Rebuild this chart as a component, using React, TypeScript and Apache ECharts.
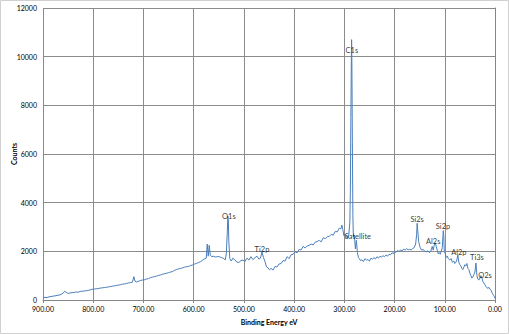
import React, { useEffect, useRef } from "react";
import * as echarts from "echarts";

// Binding energy (eV) and counts
const energies: number[] = [
  900, 896, 892, 888, 884, 880, 876, 872, 868, 864, 860, 857, 854, 850, 846, 842, 838, 834, 830, 826,
  822, 818, 814, 810, 806, 802, 798, 794, 790, 786, 782, 778, 774, 770, 766, 762, 758, 754, 750, 746,
  742, 738, 734, 730, 726, 722, 719, 717, 714, 710, 706, 702, 698, 694, 690, 686, 682, 678, 674, 670,
  666, 662, 658, 654, 650, 646, 642, 638, 634, 630, 626, 622, 618, 614, 610, 606, 602, 598, 594, 590,
  586, 582, 578, 575, 573, 571, 569, 567, 564, 560, 556, 552, 548, 544, 540, 537, 535, 533, 532, 531,
  530, 528, 525, 522, 518, 514, 510, 506, 502, 498, 494, 490, 486, 482, 478, 474, 470, 467, 464, 461,
  458, 455, 452, 449, 446, 442, 438, 434, 430, 426, 422, 418, 414, 410, 406, 402, 398, 394, 390, 386,
  382, 378, 374, 370, 366, 362, 358, 354, 350, 346, 342, 338, 334, 330, 326, 322, 318, 314, 310, 307,
  305, 303, 301, 299, 297, 295, 293, 291, 289, 288, 287, 286, 285.5, 285, 284, 283, 282, 280, 278, 276,
  274, 272, 270, 268, 265, 262, 259, 256, 253, 250, 247, 244, 241, 238, 235, 232, 229, 226, 223, 220,
  217, 214, 211, 208, 205, 202, 200, 197, 194, 191, 188, 185, 182, 179, 176, 173, 170, 167, 164, 161,
  158, 156, 155, 154, 152, 149, 146, 143, 140, 137, 134, 131, 128, 125, 123, 121, 119, 117, 115, 113,
  111, 109, 107, 105, 103, 102, 101, 99, 97, 95, 93, 90, 87, 85, 82, 80, 78, 76, 74, 72,
  70, 68, 66, 64, 62, 60, 58, 56, 54, 52, 50, 48, 46, 44, 42, 40, 38, 37, 36, 34,
  32, 30, 28, 26, 24, 22, 20, 18, 16, 14, 12, 10, 8, 6, 4, 2, 1, 0,
];

const counts: number[] = [
  90, 110, 100, 130, 140, 160, 170, 190, 200, 230, 280, 360, 320, 270, 290, 300, 310, 330, 320, 350,
  360, 370, 380, 400, 410, 440, 450, 460, 470, 490, 500, 510, 520, 540, 550, 570, 580, 600, 610, 630,
  650, 660, 680, 700, 710, 730, 960, 780, 740, 770, 800, 820, 830, 860, 880, 920, 940, 960, 980, 1010,
  1030, 1060, 1080, 1100, 1120, 1150, 1170, 1220, 1250, 1280, 1300, 1320, 1350, 1370, 1380, 1420, 1440, 1480, 1510, 1540,
  1580, 1640, 1690, 1720, 2300, 1800, 2250, 1850, 1780, 1800, 1760, 1790, 1770, 1740, 1700, 1650, 1900, 2800, 3450, 3300,
  2400, 1700, 1600, 1720, 1650, 1560, 1540, 1620, 1640, 1580, 1720, 1640, 1780, 1660, 1740, 1800, 1680, 1720, 1970, 1750,
  1580, 1360, 1320, 1240, 1300, 1230, 1380, 1360, 1480, 1500, 1620, 1600, 1780, 1700, 1860, 1880, 1980, 1940, 2080, 2060,
  2200, 2140, 2220, 2250, 2300, 2260, 2380, 2400, 2450, 2390, 2560, 2520, 2600, 2610, 2700, 2660, 2820, 2800, 2950, 2920,
  3080, 2900, 2650, 2700, 2550, 2600, 2550, 2700, 3200, 4500, 7500, 10000, 10700, 9800, 6500, 3500, 2600, 2650, 2100, 2450,
  1950, 1750, 1700, 1620, 1650, 1580, 1700, 1640, 1660, 1600, 1720, 1680, 1740, 1690, 1780, 1720, 1800, 1770, 1820, 1780,
  1850, 1800, 1880, 1860, 1940, 1900, 1990, 1960, 2040, 1990, 2060, 2020, 2090, 2050, 2110, 2060, 2080, 2060, 2110, 2150,
  2300, 2700, 3150, 2900, 2400, 2150, 2050, 2080, 2000, 1980, 2020, 1950, 2000, 2200, 2050, 2250, 2350, 2200, 2050, 1900,
  1950, 1880, 2000, 2150, 2850, 2650, 2000, 1900, 1750, 1800, 1700, 1650, 1700, 1550, 1600, 1500, 1550, 1650, 1850, 1550,
  1450, 1400, 1300, 1250, 1350, 1450, 1400, 1500, 1300, 1250, 1100, 1000, 900, 950, 1050, 1150, 1520, 1300, 1000, 850,
  820, 900, 1000, 900, 750, 700, 620, 550, 500, 480, 520, 450, 400, 300, 220, 180, 130, 60,
];

// Peak annotations: name, energy, counts (label centre)
const peakNames: string[] = ["C1s", "Satellite", "O1s", "Ti2p", "Si2s", "Al2s", "Si2p", "Al2p", "Ti3s", "O2s"];
const peakEnergies: number[] = [285, 273, 530, 464, 155, 123, 103.5, 72, 36, 20];
const peakCounts: number[] = [10270, 2590, 3450, 2055, 3290, 2385, 3040, 1970, 1730, 990];

const xTicks = { min: 0, max: 900, interval: 100 };
const yTicks = { min: 0, max: 12000, interval: 2000 };

export default function App() {
  const ref = useRef<HTMLDivElement>(null);
  useEffect(() => {
    if (!ref.current) return;
    const chart = echarts.init(ref.current, undefined, { renderer: "svg" });
    const font = "Lato, 'Open Sans', sans-serif";
    chart.setOption({
      animation: false,
      backgroundColor: "#ffffff",
      textStyle: { fontFamily: font },
      grid: {
        left: 43,
        right: 14,
        top: 8,
        bottom: 34,
        containLabel: false,
        outerBoundsMode: "none",
      },
      graphic: [
        {
          type: "rect",
          shape: { x: 0.5, y: 0.5, width: 508, height: 333 },
          style: { fill: "none", stroke: "#d0d0d0", lineWidth: 1 },
          silent: true,
        },
      ],
      xAxis: {
        type: "value",
        inverse: true,
        min: xTicks.min,
        max: xTicks.max,
        interval: xTicks.interval,
        name: "Binding Energy eV",
        nameLocation: "middle",
        nameGap: 18,
        nameMoveOverlap: false,
        nameTextStyle: { fontSize: 7, fontWeight: "bold", color: "#000", fontFamily: font },
        axisLine: { show: true, lineStyle: { color: "#868686", width: 1 } },
        axisTick: { show: true, length: 3, lineStyle: { color: "#868686" } },
        axisLabel: {
          fontSize: 7,
          color: "#000",
          margin: 5,
          fontFamily: font,
          formatter: (v: number) => v.toFixed(2),
        },
        splitLine: { show: true, lineStyle: { color: "#8c8c8c", width: 1 } },
      },
      yAxis: {
        type: "value",
        min: yTicks.min,
        max: yTicks.max,
        interval: yTicks.interval,
        name: "Counts",
        nameLocation: "middle",
        nameGap: 26,
        nameMoveOverlap: false,
        nameRotate: 90,
        nameTextStyle: { fontSize: 7, fontWeight: "bold", color: "#000", fontFamily: font },
        axisLine: { show: true, lineStyle: { color: "#868686", width: 1 } },
        axisTick: { show: true, length: 3, lineStyle: { color: "#868686" } },
        axisLabel: {
          fontSize: 7,
          color: "#000",
          margin: 6,
          fontFamily: font,
          formatter: (v: number) => String(v),
        },
        splitLine: { show: true, lineStyle: { color: "#8c8c8c", width: 1 } },
      },
      series: [
        {
          type: "line",
          name: "Counts",
          data: energies.map((e, i) => [e, counts[i]]),
          showSymbol: false,
          symbol: "none",
          lineStyle: { color: "#4a7ebb", width: 1 },
          z: 3,
        },
        {
          type: "scatter",
          name: "labels",
          data: peakEnergies.map((e, i) => ({ value: [e, peakCounts[i]], name: peakNames[i] })),
          symbolSize: 0,
          label: {
            show: true,
            position: "inside",
            formatter: (p: any) => p.name,
            fontSize: 7.5,
            color: "#000",
            fontFamily: font,
          },
          z: 5,
        },
      ],
    });
    return () => chart.dispose();
  }, []);
  return (
    <div
      ref={ref}
      style={{ position: "fixed", left: 0, top: 0, width: 509, height: 334 }}
    />
  );
}
